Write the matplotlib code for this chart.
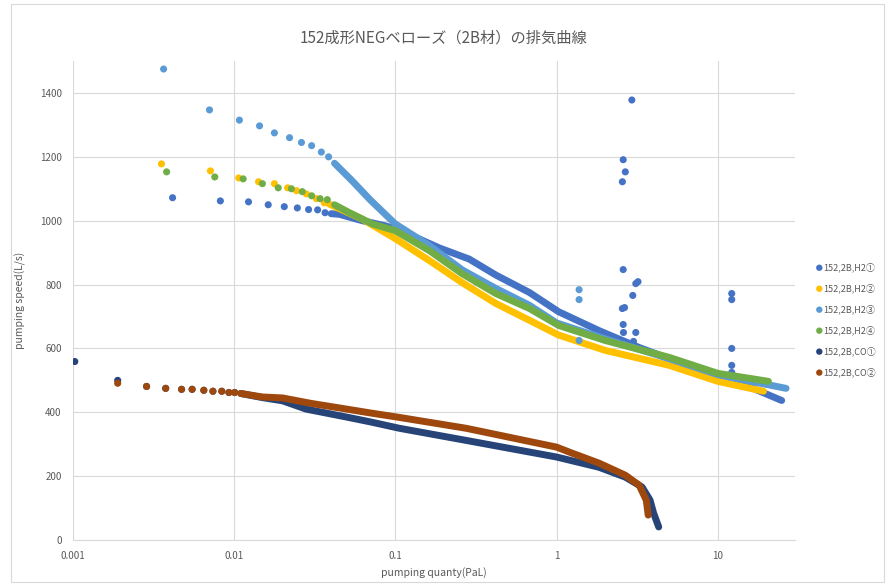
import matplotlib.pyplot as plt
from matplotlib.patches import Rectangle
from matplotlib.ticker import FixedLocator, NullLocator

plt.rcParams['font.family'] = ['Noto Sans CJK JP', 'DejaVu Sans']

# scattered points at low quantity (and outliers)
h2_1_sparse_x = [0.00416, 0.00823, 0.0123, 0.0163, 0.0205, 0.0247, 0.029, 0.033, 0.0367,
                 2.93, 2.59, 2.67, 2.56, 2.59, 3.1, 3.2, 2.97, 2.64, 2.56, 2.59, 2.6, 3.1, 3.0,
                 12.2, 12.2, 12.2, 12.2, 12.2]
h2_1_sparse_y = [1072, 1062, 1059, 1050, 1044, 1040, 1035, 1034, 1025,
                 1378, 1191, 1153, 1122, 847, 803, 809, 766, 728, 725, 675, 650, 650, 622,
                 772, 753, 600, 547, 525]
h2_1_x = [0.04, 0.045, 0.0625, 0.087, 0.116, 0.187, 0.287, 0.42, 0.68, 1.03, 1.85, 3.25, 4.75, 10, 15, 24.9]
h2_1_y = [1022, 1020, 1000, 984, 962, 915, 880, 830, 775, 715, 655, 603, 572, 510, 484, 437]

h2_2_sparse_x = [0.00355, 0.00714, 0.0107, 0.0142, 0.0178, 0.0215, 0.0244, 0.0281, 0.0324, 0.0363]
h2_2_sparse_y = [1178, 1156, 1134, 1122, 1116, 1103, 1094, 1084, 1069, 1056]
h2_2_x = [0.039, 0.0625, 0.1, 0.163, 0.26, 0.42, 0.68, 1.03, 2, 5, 10, 19.2]
h2_2_y = [1052, 1005, 944, 875, 806, 741, 688, 642, 594, 547, 497, 466]

h2_3_sparse_x = [0.00366, 0.00705, 0.0108, 0.0144, 0.0178, 0.0221, 0.0262, 0.0303, 0.0348, 0.0386,
                 1.38, 1.38, 1.38]
h2_3_sparse_y = [1475, 1347, 1315, 1297, 1275, 1260, 1245, 1235, 1215, 1200,
                 784, 753, 625]
h2_3_x = [0.042, 0.054, 0.07, 0.1, 0.163, 0.26, 0.42, 0.68, 1.0, 2, 5, 10, 26.5]
h2_3_y = [1180, 1125, 1065, 990, 922, 846, 788, 735, 680, 630, 568, 518, 475]

h2_4_sparse_x = [0.00382, 0.0076, 0.0114, 0.015, 0.0188, 0.0227, 0.0265, 0.0303, 0.0342, 0.0379]
h2_4_sparse_y = [1153, 1137, 1131, 1116, 1103, 1100, 1091, 1078, 1069, 1066]
h2_4_x = [0.042, 0.052, 0.072, 0.1, 0.163, 0.26, 0.42, 0.68, 1.03, 2, 5, 10, 20.6]
h2_4_y = [1050, 1025, 990, 969, 906, 834, 772, 725, 672, 625, 572, 522, 497]

co_1_sparse_x = [0.00103, 0.0019, 0.00287, 0.00377, 0.00473, 0.0055, 0.0065, 0.0074, 0.0084, 0.0093, 0.0101]
co_1_sparse_y = [559, 500, 481, 475, 472, 472, 469, 466, 466, 462, 462]
co_1_x = [0.011, 0.015, 0.02, 0.028, 0.05, 0.07, 0.106, 0.275, 1.0, 1.83, 2.67, 3.39, 3.8, 4.0, 4.3]
co_1_y = [459, 446, 436, 410, 385, 370, 350, 312, 260, 228, 197, 166, 125, 84, 41]

co_2_sparse_x = [0.0019, 0.00287, 0.00377, 0.00473, 0.0055, 0.0065, 0.0074, 0.0084, 0.0093, 0.0101]
co_2_sparse_y = [491, 481, 475, 472, 472, 469, 466, 466, 462, 462]
co_2_x = [0.011, 0.015, 0.02, 0.03, 0.05, 0.07, 0.106, 0.275, 1.0, 1.25, 1.83, 2.67, 3.25, 3.6, 3.7]
co_2_y = [459, 448, 445, 428, 410, 398, 384, 350, 291, 272, 241, 203, 172, 125, 78]

labels = ['152,2B,H2①', '152,2B,H2②', '152,2B,H2③', '152,2B,H2④', '152,2B,CO①', '152,2B,CO②']
colors = ['#4472C4', '#FFC000', '#5B9BD5', '#70AD47', '#264478', '#9E480E']

series = [
    (h2_1_sparse_x, h2_1_sparse_y, h2_1_x, h2_1_y),
    (h2_2_sparse_x, h2_2_sparse_y, h2_2_x, h2_2_y),
    (h2_3_sparse_x, h2_3_sparse_y, h2_3_x, h2_3_y),
    (h2_4_sparse_x, h2_4_sparse_y, h2_4_x, h2_4_y),
    (co_1_sparse_x, co_1_sparse_y, co_1_x, co_1_y),
    (co_2_sparse_x, co_2_sparse_y, co_2_x, co_2_y),
]

fig = plt.figure(figsize=(8.87, 5.87), dpi=100)
ax = fig.add_axes([0.082, 0.08, 0.814, 0.816])

grey = '#595959'
for (sx, sy, dx, dy), c, lab in zip(series, colors, labels):
    ax.plot(dx, dy, '-', color=c, lw=5, solid_capstyle='round', solid_joinstyle='round', zorder=3)
    ax.scatter(sx, sy, s=26, color=c, edgecolors='none', zorder=3, label=lab)

ax.set_xscale('log')
ax.set_xlim(0.001, 30)
ax.set_ylim(0, 1500)
ax.xaxis.set_major_locator(FixedLocator([0.001, 0.01, 0.1, 1, 10]))
ax.xaxis.set_minor_locator(NullLocator())
ax.set_xticklabels(['0.001', '0.01', '0.1', '1', '10'])
ax.set_yticks(range(0, 1401, 200))
ax.grid(True, color='#D9D9D9', lw=0.8, zorder=0)
ax.set_axisbelow(True)
for s in ['top', 'right', 'left']:
    ax.spines[s].set_visible(False)
ax.spines['bottom'].set_color('#D9D9D9')
ax.tick_params(length=0, labelsize=7, colors=grey, pad=8)

ax.set_xlabel('pumping quanty(PaL)', fontsize=7.5, color=grey, labelpad=4)
ax.set_ylabel('pumping speed(L/s)', fontsize=7.5, color=grey, labelpad=10)
fig.text(0.5, 0.935, '152成形NEGベローズ（2B材）の排気曲線', ha='center', va='center',
         fontsize=11, color=grey)

leg = ax.legend(loc='center left', bbox_to_anchor=(1.024, 0.46), frameon=False, fontsize=6.5,
                handletextpad=0.05, labelspacing=1.25, handlelength=0.8, markerscale=0.9,
                borderaxespad=0)
for t in leg.get_texts():
    t.set_color(grey)

fig.patches.append(Rectangle((0.012, 0.008), 0.985, 0.985, transform=fig.transFigure,
                             fill=False, edgecolor='#D9D9D9', lw=0.8))

fig.savefig('out.png', dpi=100)
